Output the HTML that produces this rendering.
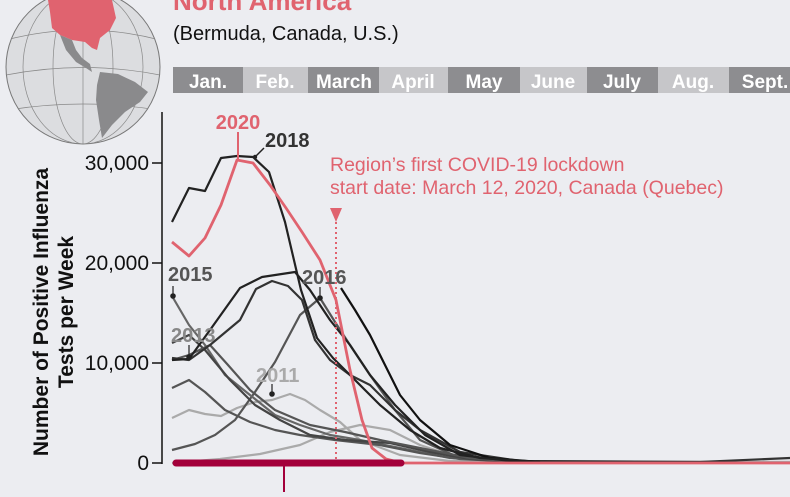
<!DOCTYPE html>
<html><head><meta charset="utf-8"><style>
html,body{margin:0;padding:0;background:#ecedf1;}
svg{display:block;font-family:"Liberation Sans",sans-serif;}
</style></head><body>
<svg width="790" height="497" viewBox="0 0 790 497">
<rect width="790" height="497" fill="#ecedf1"/>
<defs><clipPath id="g"><circle cx="83" cy="67" r="77"/></clipPath></defs>
<circle cx="83" cy="67" r="77" fill="#dcdde0" stroke="#777" stroke-width="1"/>
<g clip-path="url(#g)" fill="none" stroke="#888" stroke-width="0.7">
<ellipse cx="83" cy="67" rx="30" ry="77"/><ellipse cx="83" cy="67" rx="60" ry="77"/>
<line x1="83" y1="-10" x2="83" y2="144"/>
<path d="M6 40 Q83 20 160 40"/><path d="M6 75 Q83 60 160 75"/><path d="M8 110 Q83 98 158 110"/>
</g>
<g clip-path="url(#g)">
<path d="M48 0 L112 0 L116 18 L110 30 L100 38 L97 50 L92 48 L85 42 L72 40 L60 35 L52 28 L50 12 Z" fill="#e0636f"/>
<path d="M60 35 L66 50 L76 62 L86 68 L92 72 L90 64 L82 58 L76 50 L72 40 Z" fill="#8a8a8c"/>
<path d="M100 72 L118 74 L135 82 L148 92 L140 102 L125 112 L112 125 L102 138 L99 120 L96 100 L97 85 Z" fill="#8a8a8c"/>
</g>
<text x="173" y="10" fill="#e0636f" font-weight="bold" font-size="26">North America</text>
<text x="173" y="40" fill="#111" font-size="20">(Bermuda, Canada, U.S.)</text>
<g font-weight="bold" font-size="19" fill="#fff" text-anchor="middle">
<rect x="173" y="67" width="70" height="26" fill="#8d8d90"/><text x="208" y="88">Jan.</text>
<rect x="243" y="67" width="65" height="26" fill="#c6c6c9"/><text x="275" y="88">Feb.</text>
<rect x="308" y="67" width="71" height="26" fill="#8d8d90"/><text x="344" y="88">March</text>
<rect x="379" y="67" width="69" height="26" fill="#c6c6c9"/><text x="413" y="88">April</text>
<rect x="448" y="67" width="72" height="26" fill="#8d8d90"/><text x="484" y="88">May</text>
<rect x="520" y="67" width="67" height="26" fill="#c6c6c9"/><text x="553" y="88">June</text>
<rect x="587" y="67" width="71" height="26" fill="#8d8d90"/><text x="622" y="88">July</text>
<rect x="658" y="67" width="71" height="26" fill="#c6c6c9"/><text x="693" y="88">Aug.</text>
<rect x="729" y="67" width="61" height="26" fill="#8d8d90"/><text x="765" y="88">Sept.</text>
</g>
<g stroke="#111" stroke-width="1.5">
<line x1="162" y1="112" x2="162" y2="464"/>
<line x1="152" y1="163" x2="162" y2="163"/><line x1="152" y1="263" x2="162" y2="263"/>
<line x1="152" y1="363" x2="162" y2="363"/><line x1="152" y1="463" x2="162" y2="463"/>
</g>
<g font-size="21" fill="#111" text-anchor="end">
<text x="149" y="170">30,000</text><text x="149" y="270">20,000</text>
<text x="149" y="370">10,000</text><text x="149" y="470">0</text>
</g>
<g font-weight="bold" font-size="21" fill="#111" text-anchor="middle">
<text transform="translate(48,312) rotate(-90)">Number of Positive Influenza</text>
<text transform="translate(73,312) rotate(-90)">Tests per Week</text>
</g>
<g fill="none" stroke-width="2.2" stroke-linejoin="round">
<path d="M172 463 L220 459 L260 454 L300 445 L330 432 L360 425 L390 430 L420 445 L460 458 L520 462 L790 462" stroke="#aaa"/>
<path d="M172 418 L189 410 L205 414 L221 416 L237 408 L255 402 L272 400 L290 394 L305 400 L320 410 L340 422 L360 440 L400 455 L450 461 L790 462" stroke="#aaa"/>
<path d="M172 450 L195 444 L215 435 L235 420 L255 392 L275 362 L300 315 L320 298 L335 322 L350 345 L370 375 L395 410 L420 440 L460 458 L520 462" stroke="#555"/>
<path d="M172 296 L189 325 L205 345 L225 375 L250 395 L275 415 L300 425 L330 435 L360 440 L400 448 L450 458 L520 462" stroke="#666"/>
<path d="M172 388 L189 380 L205 392 L225 410 L250 422 L275 430 L300 435 L335 440 L380 445 L420 453 L460 459 L520 462" stroke="#555"/>
<path d="M172 343 L189 335 L205 350 L230 380 L255 405 L280 420 L310 435 L345 440 L390 443 L430 452 L470 459 L520 462" stroke="#444"/>
<path d="M172 360 L189 355 L210 345 L228 365 L250 390 L275 410 L310 425 L345 432 L380 440 L420 448 L470 458 L520 462" stroke="#555"/>
<path d="M172 358 L189 360 L210 345 L240 320 L256 289 L272 281 L288 286 L302 300 L315 340 L330 360 L350 375 L370 385 L395 410 L420 430 L460 452 L520 461 L700 462 L790 458" stroke="#333"/>
<path d="M172 360 L189 359 L210 330 L240 288 L262 277 L295 272 L310 290 L330 320 L350 345 L370 375 L395 405 L425 435 L460 455 L520 462" stroke="#222"/>
<path d="M341 288 L355 310 L370 335 L385 365 L400 395 L420 420 L450 445 L490 458 L540 462" stroke="#111"/>
<path d="M172 222 L189 188 L205 191 L221 158 L237 156 L253 157 L269 172 L285 222 L301 290 L317 338 L333 358 L355 380 L380 405 L410 430 L440 448 L480 458 L540 462" stroke="#222"/>
<path d="M172 242 L189 256 L205 238 L221 205 L237 160 L253 163 L270 185 L286 208 L302 232 L320 260 L336 300 L350 370 L362 420 L372 448 L386 459 L402 463 L790 463" stroke="#e0636f" stroke-width="2.8"/>
</g>
<line x1="176" y1="463" x2="401" y2="463" stroke="#a3003a" stroke-width="7" stroke-linecap="round"/>
<line x1="284" y1="463" x2="284" y2="492" stroke="#a3003a" stroke-width="2"/>
<line x1="336" y1="222" x2="336" y2="462" stroke="#e0636f" stroke-width="2" stroke-dasharray="2,3"/>
<path d="M330 208 L342 208 L336 222 Z" fill="#e0636f"/>
<g fill="#e0636f" font-size="19.5">
<text x="330" y="171">Region’s first COVID-19 lockdown</text>
<text x="330" y="194">start date: March 12, 2020, Canada (Quebec)</text>
</g>
<line x1="238" y1="132" x2="238" y2="160" stroke="#e0636f" stroke-width="2"/>
<text x="238" y="129" fill="#e0636f" font-weight="bold" font-size="20" text-anchor="middle">2020</text>
<text x="265" y="147" fill="#333" font-weight="bold" font-size="20">2018</text>
<path d="M264 148 L256 156" stroke="#222" stroke-width="1.5"/><circle cx="255" cy="157" r="2.2" fill="#222"/>
<g font-weight="bold" font-size="20">
<text x="168" y="281" fill="#555">2015</text>
<text x="171" y="342" fill="#888">2013</text>
<text x="302" y="284" fill="#555">2016</text>
<text x="256" y="382" fill="#aaa">2011</text>
</g>
<g stroke="#222" stroke-width="1.2" fill="#222">
<line x1="173" y1="286" x2="173" y2="296"/><circle cx="173" cy="296" r="2.2"/>
<line x1="189" y1="345" x2="189" y2="356"/><circle cx="189" cy="357" r="2.2"/>
<line x1="320" y1="287" x2="320" y2="297"/><circle cx="320" cy="298" r="2.2"/>
<line x1="272" y1="384" x2="272" y2="393"/><circle cx="272" cy="394" r="2.2"/>
</g>
</svg>
</body></html>
